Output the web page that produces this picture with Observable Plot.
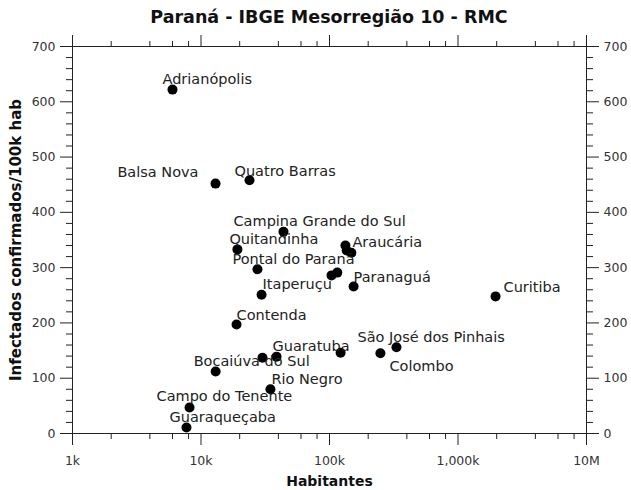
<!DOCTYPE html>
<html><head><meta charset="utf-8">
<script src="https://cdn.jsdelivr.net/npm/d3@7"></script>
<script src="https://cdn.jsdelivr.net/npm/@observablehq/plot@0.6"></script>
<style>
body{margin:0;background:#fff;font-family:"DejaVu Sans",sans-serif;}
#title{width:631px;box-sizing:border-box;padding:7px 45px 0 72px;height:30px;text-align:center;font-weight:bold;font-size:17.5px;line-height:20px;color:#111;white-space:nowrap;}
</style></head><body>
<div id="title">Paraná - IBGE Mesorregião 10 - RMC</div>
<div id="chart"></div>
<script>
// ---- data ----
const labels = ["Adrianópolis","Balsa Nova","Quatro Barras","Campina Grande do Sul","Quitandinha","Pontal do Paraná",
  "","","Araucária","","","Paranaguá","Itaperuçu","Curitiba","Contenda","São José dos Pinhais","Colombo","",
  "Guaratuba","","Bocaiúva do Sul","Rio Negro","Campo do Tenente","Guaraqueçaba"];
const habitantes = [6000,12970,23850,43850,19200,27500,133000,136000,148000,103700,115000,154000,29600,1960000,
  18900,332000,249000,122000,38700,30100,13000,34700,8140,7710];
const infectados = [622,452,458,365,333,297,340,331,327,286,291,266,251,248,197,156,145,146,139,137,112,80,47,11];
const xMajorTicks = [1e3,1e4,1e5,1e6,1e7];
const xTickLabels = ["1k","10k","100k","1,000k","10M"];
const yMajorTicks = [0,100,200,300,400,500,600,700];

// ---- label layout (pixel offsets from each point) ----
const labelLayout = {
  "Adrianópolis":[-10,-10,"start"], "Balsa Nova":[-17,-11,"end"], "Quatro Barras":[-15,-9,"start"],
  "Campina Grande do Sul":[-50,-10,"start"], "Quitandinha":[-8,-10,"start"], "Pontal do Paraná":[-25,-10,"start"],
  "Araucária":[1,-10,"start"], "Paranaguá":[0,-9,"start"], "Itaperuçu":[1,-10,"start"], "Curitiba":[8,-9,"start"],
  "Contenda":[0,-9,"start"], "São José dos Pinhais":[-39,-10,"start"], "Colombo":[9,13,"start"],
  "Guaratuba":[-4,-10,"start"], "Bocaiúva do Sul":[-22,-10,"start"], "Rio Negro":[1,-10,"start"],
  "Campo do Tenente":[-33,-11,"start"], "Guaraqueçaba":[-17,-10,"start"]
};

const data = labels.map((l,i)=>({label:l, hab:habitantes[i], inf:infectados[i]}));
const xMinor = [];
for (let e=3;e<7;e++) for (const m of [2,4,6,8]) xMinor.push(m*10**e);
const yMinor = d3.range(0,701,20).filter(v=>v%100!==0);
const fmtX = v => xTickLabels[xMajorTicks.indexOf(v)] ?? "";
const ink = "#222";

const labelMarks = data.filter(d=>d.label).map(d=>{
  const [dx,dy,anchor] = labelLayout[d.label];
  return Plot.text([d],{x:"hab",y:"inf",text:"label",dx,dy,textAnchor:anchor,lineAnchor:"middle",fontSize:14.5,fill:"#222"});
});

const chart = Plot.plot({
  width:631, height:460,
  marginTop:16, marginBottom:57, marginLeft:72, marginRight:45,
  style:{fontFamily:"DejaVu Sans, sans-serif", fontSize:"12.5px", color:"#333", background:"white"},
  x:{type:"log", domain:[1e3,1e7]},
  y:{domain:[0,700]},
  marks:[
    Plot.axisX({anchor:"bottom", ticks:xMajorTicks, tickSize:12, tickPadding:11, tickFormat:fmtX, label:null, stroke:ink}),
    Plot.axisX({anchor:"bottom", ticks:xMinor, tickSize:6, tickFormat:()=>"", label:null, stroke:ink}),
    Plot.axisX({anchor:"top", ticks:xMajorTicks, tickSize:12, tickFormat:()=>"", label:null, stroke:ink}),
    Plot.axisX({anchor:"top", ticks:xMinor, tickSize:6, tickFormat:()=>"", label:null, stroke:ink}),
    Plot.axisY({anchor:"left", ticks:yMajorTicks, tickSize:12, tickPadding:5, label:null, stroke:ink}),
    Plot.axisY({anchor:"left", ticks:yMinor, tickSize:6, tickFormat:()=>"", label:null, stroke:ink}),
    Plot.axisY({anchor:"right", ticks:yMajorTicks, tickSize:12, tickPadding:5, label:null, stroke:ink}),
    Plot.axisY({anchor:"right", ticks:yMinor, tickSize:6, tickFormat:()=>"", label:null, stroke:ink}),
    Plot.frame({stroke:ink}),
    Plot.dot(data,{x:"hab", y:"inf", r:5, fill:"black", stroke:"none"}),
    ...labelMarks,
    Plot.text(["Infectados confirmados/100k hab"],{frameAnchor:"left", rotate:-90, dx:-56, textAnchor:"middle", fontWeight:"bold", fontSize:15, fill:"#111"}),
    Plot.text(["Habitantes"],{frameAnchor:"bottom", dy:52, textAnchor:"middle", fontWeight:"bold", fontSize:14, fill:"#111"})
  ]
});
document.getElementById("chart").appendChild(chart);
</script>
</body></html>
